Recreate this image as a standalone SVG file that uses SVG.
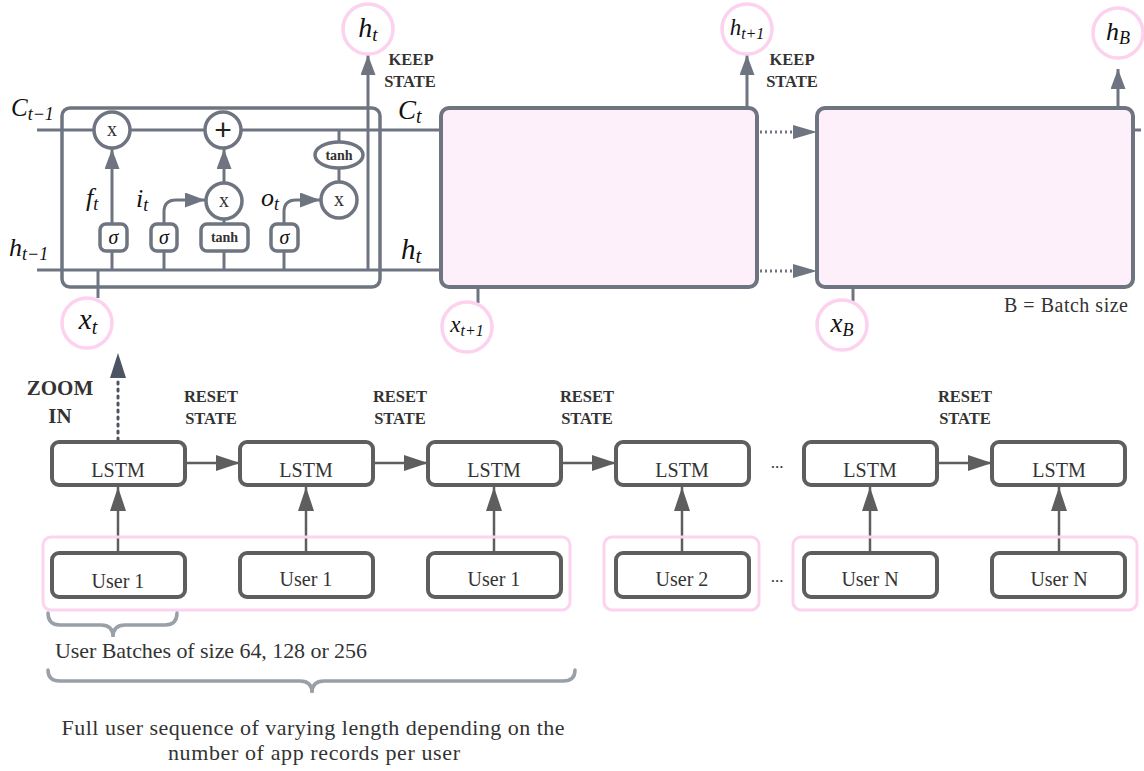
<svg xmlns="http://www.w3.org/2000/svg" width="1144" height="771" viewBox="0 0 1144 771">
<defs>
<marker id="ah" markerUnits="userSpaceOnUse" markerWidth="20" markerHeight="15" refX="20" refY="7.5" orient="auto"><path d="M0,0 L20,7.5 L0,15 z" fill="#6e7580"/></marker>
<marker id="ab" markerUnits="userSpaceOnUse" markerWidth="24" markerHeight="16" refX="24" refY="8" orient="auto"><path d="M0,0 L24,8 L0,16 z" fill="#5e5e5e"/></marker>
</defs>
<style>
.cell{fill:none;stroke:#6e7580;stroke-width:3.5}
.ln{stroke:#6e7580;stroke-width:3;fill:none}
.op{fill:#fff;stroke:#6e7580;stroke-width:3.5}
.gate{fill:#fff;stroke:#6e7580;stroke-width:3.5}
.pk{fill:#fff;stroke:#fcd2ef;stroke-width:3.5}
.pbox{fill:#fef0fa;stroke:#6e7580;stroke-width:4}
.bx{fill:#fff;stroke:#5e5e5e;stroke-width:4}
.grp{fill:none;stroke:#fdd3f0;stroke-width:3}
.ar{stroke:#5e5e5e;stroke-width:2.5;fill:none}
.dot{stroke:#6e7580;stroke-width:3;fill:none;stroke-dasharray:2 3}
.m{font-family:"Liberation Serif",serif;font-style:italic;fill:#111}
.lbl{font-family:"Liberation Serif",serif;font-weight:bold;fill:#333;font-size:16.5px;text-anchor:middle}
.t{font-family:"Liberation Serif",serif;fill:#333}
.c{text-anchor:middle}
.brace{fill:none;stroke:#9aa0a8;stroke-width:3.5;stroke-linecap:round}
</style>

<g id="connectors">
  <line class="ln" x1="37" y1="130" x2="441" y2="130"/>
  <line class="ln" x1="37" y1="270" x2="441" y2="270"/>
  <line class="ln" x1="112" y1="270" x2="112" y2="251"/>
  <line class="ln" x1="164" y1="270" x2="164" y2="251"/>
  <line class="ln" x1="224" y1="270" x2="224" y2="251"/>
  <line class="ln" x1="284" y1="270" x2="284" y2="251"/>
  <line class="ln" x1="112" y1="224" x2="112" y2="149" marker-end="url(#ah)"/>
  <path class="ln" d="M164,224 L164,212 Q164,200 176,200 L205,200" marker-end="url(#ah)"/>
  <line class="ln" x1="224" y1="225" x2="224" y2="219"/>
  <line class="ln" x1="224" y1="183" x2="224" y2="149" marker-end="url(#ah)"/>
  <path class="ln" d="M284,224 L284,212 Q284,200 296,200 L320,200" marker-end="url(#ah)"/>
  <line class="ln" x1="339" y1="130" x2="339" y2="142"/>
  <line class="ln" x1="339" y1="168" x2="339" y2="182"/>
  <line class="ln" x1="368" y1="270" x2="368" y2="55" marker-end="url(#ah)"/>
  <line class="ln" x1="98" y1="270" x2="98" y2="298"/>
  <line class="ln" x1="747" y1="108" x2="747" y2="55" marker-end="url(#ah)"/>
  <line class="ln" x1="478" y1="287" x2="478" y2="303"/>
  <line class="dot" x1="760" y1="132" x2="795" y2="132"/>
  <line class="dot" x1="760" y1="271" x2="795" y2="271"/>
  <path d="M793,125 L817,132 L793,139 z" fill="#6e7580"/>
  <path d="M793,264 L817,271 L793,278 z" fill="#6e7580"/>
  <line class="ln" x1="1118" y1="108" x2="1118" y2="69" marker-end="url(#ah)"/>
  <line class="ln" x1="853" y1="287" x2="853" y2="301"/>
  <line class="ln" x1="1133" y1="130" x2="1141" y2="130"/>
  <line x1="118" y1="440" x2="118" y2="380" style="stroke:#4a5462;stroke-width:3;stroke-dasharray:2 5;stroke-linecap:round"/>
  <path d="M110,378 L118,353 L126,378 z" fill="#4a5462"/>
  <line class="ar" x1="186" y1="463" x2="240" y2="463" marker-end="url(#ab)"/>
  <line class="ar" x1="374" y1="463" x2="428" y2="463" marker-end="url(#ab)"/>
  <line class="ar" x1="562" y1="463" x2="616" y2="463" marker-end="url(#ab)"/>
  <line class="ar" x1="938" y1="463" x2="992" y2="463" marker-end="url(#ab)"/>
  <line class="ar" x1="118" y1="553" x2="118" y2="487" marker-end="url(#ab)"/>
  <line class="ar" x1="306" y1="553" x2="306" y2="487" marker-end="url(#ab)"/>
  <line class="ar" x1="494" y1="553" x2="494" y2="487" marker-end="url(#ab)"/>
  <line class="ar" x1="682" y1="553" x2="682" y2="487" marker-end="url(#ab)"/>
  <line class="ar" x1="870" y1="553" x2="870" y2="487" marker-end="url(#ab)"/>
  <line class="ar" x1="1059" y1="553" x2="1059" y2="487" marker-end="url(#ab)"/>
</g>

<g id="lstm-cell">
  <rect class="cell" x="62" y="108" width="318" height="179" rx="8"/>
  <circle class="op" cx="112" cy="130" r="18"/>
  <text class="t c" x="112" y="136" font-size="20" fill="#222">x</text>
  <circle class="op" cx="223" cy="130" r="18"/>
  <text class="c" x="223" y="140" font-family="Liberation Sans, sans-serif" font-size="30" fill="#222">+</text>
  <circle class="op" cx="224" cy="201" r="18"/>
  <text class="t c" x="224" y="207" font-size="20" fill="#222">x</text>
  <ellipse class="op" cx="339" cy="155" rx="24" ry="13"/>
  <text class="t c" x="339" y="160" font-size="14" font-weight="bold" fill="#333">tanh</text>
  <circle class="op" cx="339" cy="200" r="18"/>
  <text class="t c" x="339" y="206" font-size="20" fill="#222">x</text>
  <rect class="gate" x="100" y="224" width="27" height="27" rx="6"/>
  <text class="m c" x="113.5" y="244" font-size="20">σ</text>
  <rect class="gate" x="151" y="224" width="26" height="27" rx="6"/>
  <text class="m c" x="164" y="244" font-size="20">σ</text>
  <rect class="gate" x="201" y="224" width="47" height="27" rx="6"/>
  <text class="t c" x="224.5" y="242" font-size="14" font-weight="bold" fill="#333">tanh</text>
  <rect class="gate" x="271" y="224" width="27" height="27" rx="6"/>
  <text class="m c" x="284.5" y="244" font-size="20">σ</text>
  <text class="m" x="86" y="206" font-size="26">f<tspan font-size="18" dy="4">t</tspan></text>
  <text class="m" x="136" y="207" font-size="26">i<tspan font-size="18" dy="4">t</tspan></text>
  <text class="m" x="261" y="206" font-size="26">o<tspan font-size="18" dy="4">t</tspan></text>
</g>

<g id="state-labels">
  <text class="m" x="11" y="116" font-size="25">C<tspan font-size="18" dy="4">t−1</tspan></text>
  <text class="m" x="9" y="256" font-size="26">h<tspan font-size="18" dy="4">t−1</tspan></text>
  <text class="m" x="398" y="119" font-size="27">C<tspan font-size="20" dy="4">t</tspan></text>
  <text class="m" x="401" y="259" font-size="29">h<tspan font-size="21" dy="4">t</tspan></text>
  <text class="lbl" x="411" y="65">KEEP</text>
  <text class="lbl" x="410" y="87">STATE</text>
  <text class="lbl" x="792" y="65">KEEP</text>
  <text class="lbl" x="792" y="87">STATE</text>
</g>

<g id="out-ht">
  <circle class="pk" cx="368" cy="29" r="25"/>
  <text class="m c" x="368" y="37" font-size="28">h<tspan font-size="19" dy="4">t</tspan></text>
</g>
<g id="in-xt">
  <circle class="pk" cx="87" cy="323" r="25"/>
  <text class="m c" x="88" y="329" font-size="29">x<tspan font-size="20" dy="5">t</tspan></text>
</g>

<g id="box-t1">
  <rect class="pbox" x="441" y="108" width="316" height="179" rx="8"/>
</g>
<g id="out-ht1">
  <circle class="pk" cx="747" cy="29" r="25"/>
  <text class="m c" x="747" y="35" font-size="23">h<tspan font-size="16" dy="4">t+1</tspan></text>
</g>
<g id="in-xt1">
  <circle class="pk" cx="467" cy="327" r="25"/>
  <text class="m c" x="467" y="332" font-size="23">x<tspan font-size="16" dy="4">t+1</tspan></text>
</g>

<g id="box-B">
  <rect class="pbox" x="817" y="108" width="316" height="179" rx="8"/>
  <text class="t" x="1004" y="312" font-size="20" textLength="124">B = Batch size</text>
</g>
<g id="out-hB">
  <circle class="pk" cx="1118" cy="33" r="25"/>
  <text class="m c" x="1118" y="40" font-size="26">h<tspan font-size="18" dy="4">B</tspan></text>
</g>
<g id="in-xB">
  <circle class="pk" cx="842" cy="325" r="25"/>
  <text class="m c" x="842" y="332" font-size="27">x<tspan font-size="18" dy="4">B</tspan></text>
</g>

<g id="zoom-label">
  <text class="lbl" x="60" y="395" style="font-size:21px">ZOOM</text>
  <text class="lbl" x="60" y="423" style="font-size:21px">IN</text>
</g>

<g id="reset-labels">
  <text class="lbl" x="211" y="402">RESET</text><text class="lbl" x="211" y="424">STATE</text>
  <text class="lbl" x="400" y="402">RESET</text><text class="lbl" x="400" y="424">STATE</text>
  <text class="lbl" x="587" y="402">RESET</text><text class="lbl" x="587" y="424">STATE</text>
  <text class="lbl" x="965" y="402">RESET</text><text class="lbl" x="965" y="424">STATE</text>
</g>

<g id="groups">
  <rect class="grp" x="43" y="537" width="527" height="73" rx="8"/>
  <rect class="grp" x="604" y="537" width="155" height="73" rx="8"/>
  <rect class="grp" x="793" y="537" width="344" height="73" rx="8"/>
</g>

<g id="lstm1"><rect class="bx" x="52" y="442" width="133" height="43" rx="7"/><text class="t c" x="118" y="477" font-size="20">LSTM</text></g>
<g id="lstm2"><rect class="bx" x="240" y="442" width="133" height="43" rx="7"/><text class="t c" x="306" y="477" font-size="20">LSTM</text></g>
<g id="lstm3"><rect class="bx" x="428" y="442" width="133" height="43" rx="7"/><text class="t c" x="494" y="477" font-size="20">LSTM</text></g>
<g id="lstm4"><rect class="bx" x="616" y="442" width="133" height="43" rx="7"/><text class="t c" x="682" y="477" font-size="20">LSTM</text></g>
<g id="lstm5"><rect class="bx" x="804" y="442" width="133" height="43" rx="7"/><text class="t c" x="870" y="477" font-size="20">LSTM</text></g>
<g id="lstm6"><rect class="bx" x="992" y="442" width="133" height="43" rx="7"/><text class="t c" x="1059" y="477" font-size="20">LSTM</text></g>

<g id="user1a"><rect class="bx" x="52" y="553" width="133" height="44" rx="7"/><text class="t c" x="118" y="588" font-size="20">User 1</text></g>
<g id="user1b"><rect class="bx" x="240" y="553" width="133" height="44" rx="7"/><text class="t c" x="306" y="586" font-size="20">User 1</text></g>
<g id="user1c"><rect class="bx" x="428" y="553" width="133" height="44" rx="7"/><text class="t c" x="494" y="586" font-size="20">User 1</text></g>
<g id="user2"><rect class="bx" x="616" y="553" width="133" height="44" rx="7"/><text class="t c" x="682" y="586" font-size="20">User 2</text></g>
<g id="userNa"><rect class="bx" x="804" y="553" width="133" height="44" rx="7"/><text class="t c" x="870" y="586" font-size="20">User N</text></g>
<g id="userNb"><rect class="bx" x="992" y="553" width="133" height="44" rx="7"/><text class="t c" x="1059" y="586" font-size="20">User N</text></g>

<g id="ellipses">
  <text class="t c" x="777" y="468" font-size="17">...</text>
  <text class="t c" x="777" y="582" font-size="17">...</text>
</g>

<g id="braces">
  <path class="brace" d="M48,613 Q48,625 60,625 L101,625 Q113,625 113,637 Q113,625 125,625 L165,625 Q177,625 177,613"/>
  <path class="brace" d="M48,670 Q48,681 60,681 L300,681 Q312,681 312,693 Q312,681 324,681 L563,681 Q575,681 575,670"/>
  <text class="t" x="55" y="658" font-size="22" textLength="312">User Batches of size 64, 128 or 256</text>
  <text class="t c" x="313" y="735" font-size="22" textLength="503">Full user sequence of varying length depending on the</text>
  <text class="t c" x="314" y="760" font-size="22" textLength="292">number of app records per user</text>
</g>
</svg>
